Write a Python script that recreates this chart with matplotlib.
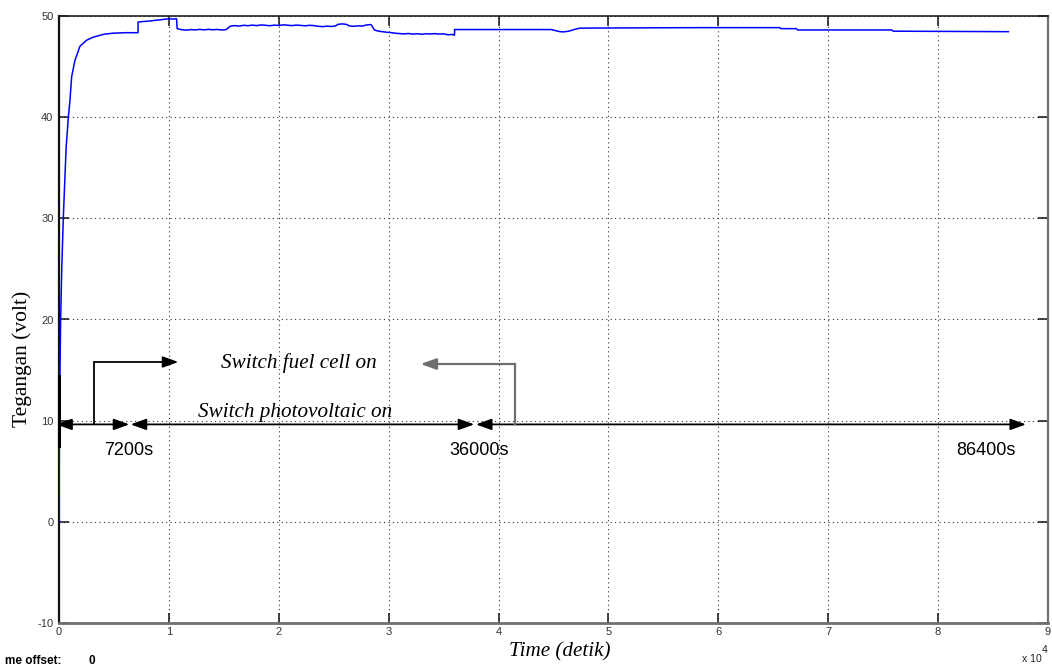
import matplotlib
matplotlib.use("Agg")
import matplotlib.pyplot as plt
from matplotlib.patches import ArrowStyle
from matplotlib.ticker import FuncFormatter

plt.rcParams["axes.unicode_minus"] = False

# --- bus voltage trace, in seconds and volts ---------------------------------
# start-up of the photovoltaic source
rise_t = [0, 40, 90, 150, 250, 390, 500, 650, 850, 1000, 1150, 1450, 1900,
          2500, 3100, 4100, 4900, 6000, 7190]
rise_v = [0, 9, 15, 20, 25, 30, 33, 37, 40, 41.7, 44.0, 45.6, 47.0,
          47.6, 47.9, 48.2, 48.3, 48.35, 48.35]

# fuel cell joins the bus
fc_t = [7200, 7600, 8000, 8400, 8800, 9200, 9600, 10000, 10400, 10700]
fc_v = [49.40, 49.45, 49.48, 49.52, 49.58, 49.62, 49.68, 49.72, 49.70, 49.72]

# load period with both sources running
mid_t = [10750, 11200, 11600, 12000, 12400, 12800, 13200, 13600, 14000, 14400,
         14800, 15200, 15600, 16000, 16400, 16800, 17200, 17600, 18000, 18400,
         18800, 19200, 19600, 20000, 20400, 20800, 21200, 21600, 22000, 22400,
         22800, 23200, 23600, 24000, 24400, 24800, 25200, 25400, 25800, 26200,
         26400, 26800, 27200, 27600, 28000, 28400, 28700, 29000, 29400, 29800,
         30200, 30600, 31000, 31400, 31800, 32200, 32600, 33000, 33400, 33800,
         34200, 34600, 35000, 35400, 35800, 35990]
mid_v = [48.75, 48.64, 48.60, 48.66, 48.62, 48.68, 48.63, 48.68, 48.64, 48.67,
         48.62, 48.65, 49.00, 49.05, 49.00, 49.08, 49.04, 49.10, 49.05, 49.12,
         49.08, 49.04, 49.10, 49.06, 49.13, 49.09, 49.05, 49.10, 49.07, 49.03,
         49.08, 49.05, 48.98, 48.95, 49.00, 48.96, 49.04, 49.18, 49.22, 49.16,
         49.02, 48.98, 49.03, 49.00, 49.12, 49.15, 48.62, 48.52, 48.45, 48.40,
         48.36, 48.30, 48.26, 48.23, 48.27, 48.21, 48.25, 48.19, 48.25, 48.22,
         48.26, 48.21, 48.24, 48.14, 48.18, 48.10]

# photovoltaic off, fuel cell alone until the end of the day
tail_t = [36000, 44800, 45200, 45600, 45900, 46400, 47000, 47400, 51000,
          58000, 65600, 65700, 67100, 67200, 75800, 75900, 86400]
tail_v = [48.66, 48.66, 48.55, 48.45, 48.43, 48.50, 48.70, 48.80, 48.82,
          48.85, 48.85, 48.75, 48.75, 48.62, 48.62, 48.50, 48.45]

time_s = rise_t + fc_t + mid_t + tail_t
voltage = rise_v + fc_v + mid_v + tail_v

# switching instants written on the timeline
switch_labels = ["7200s", "36000s", "86400s"]

x_ticks = list(range(0, 90001, 10000))
y_ticks = list(range(-10, 51, 10))

# --- figure -----------------------------------------------------------------
fig = plt.figure(figsize=(10.52, 6.69), dpi=100)
fig.patch.set_facecolor("white")
ax = fig.add_axes([59 / 1052, 1 - 623 / 669, (1048 - 59) / 1052, (623 - 16) / 669])

ax.plot(time_s, voltage, color="#0000ff", lw=1.1, zorder=3)

ax.set_xlim(0, 90000)
ax.set_ylim(-10, 50)
ax.set_xticks(x_ticks)
ax.set_yticks(y_ticks)
ax.xaxis.set_major_formatter(FuncFormatter(lambda v, p: f"{v / 1e4:g}"))
ax.grid(True, color="#333333", lw=0.8, linestyle=(0, (1, 3)))
ax.tick_params(direction="in", length=7, width=1.2, top=True, right=True,
               labelsize=8, labelcolor="#333333", color="#222222")
ax.tick_params(axis="x", pad=3)
ax.tick_params(axis="y", pad=4)
for lab in ax.get_xticklabels() + ax.get_yticklabels():
    lab.set_family("Liberation Sans")

for side, col, lw in [("top", "#222222", 1.2), ("left", "#111111", 1.6),
                      ("bottom", "#707070", 2.0), ("right", "#707070", 1.6)]:
    ax.spines[side].set_color(col)
    ax.spines[side].set_linewidth(lw)

# --- timeline annotation ----------------------------------------------------
y_line = 9.63
head = ArrowStyle("<|-|>", head_length=0.47, head_width=0.17)
single = ArrowStyle("-|>", head_length=0.47, head_width=0.17)
arrow_kw = dict(color="black", lw=1.3, shrinkA=0, shrinkB=0, mutation_scale=20)

for x0, x1 in [(-250, 6400), (6520, 37790), (37940, 88000)]:
    ax.annotate("", xy=(x1, y_line), xytext=(x0, y_line),
                arrowprops=dict(arrowstyle=head, **arrow_kw),
                annotation_clip=False, zorder=5)

# marker on the time origin
ax.plot([0, 0], [7.5, 14.4], color="black", lw=2.2, zorder=6, clip_on=False)

# bracket pointing to the fuel cell label
ax.plot([3210, 3210], [y_line, 15.8], color="black", lw=1.3, zorder=5)
ax.annotate("", xy=(10860, 15.8), xytext=(3210, 15.8),
            arrowprops=dict(arrowstyle=single, **arrow_kw), zorder=5)

# bracket from the end of the photovoltaic period
gray_kw = dict(arrow_kw)
gray_kw["color"] = "#6e6e6e"
gray_kw["lw"] = 1.6
ax.plot([41490, 41490], [y_line, 15.6], color="#6e6e6e", lw=1.6, zorder=5)
ax.annotate("", xy=(32910, 15.6), xytext=(41490, 15.6),
            arrowprops=dict(arrowstyle=single, **gray_kw), zorder=5)

serif_it = dict(family="Liberation Serif", style="italic", fontsize=15.2)
ax.text(21838, 15.2, "Switch fuel cell on", ha="center", va="baseline", **serif_it)
ax.text(21474, 10.36, "Switch photovoltaic on", ha="center", va="baseline", **serif_it)

for x, lab in zip([6370, 38262, 84350], switch_labels):
    ax.text(x, 6.6, lab, ha="center", va="baseline", fontsize=13,
            family="Liberation Sans")

# --- axis titles and scope footer ---------------------------------------------
fig.text(560 / 1052, 1 - 652 / 669, "Time (detik)", ha="center", va="center",
         **serif_it)
fig.text(22 / 1052, 1 - 359 / 669, "Tegangan (volt)", rotation=90, ha="center",
         va="center", family="Liberation Serif", fontsize=15.5)
fig.text(5 / 1052, 1 - 661 / 669, "me offset:", ha="left", va="center",
         fontsize=8.5, fontweight="bold", family="Liberation Sans")
fig.text(92 / 1052, 1 - 661 / 669, "0", ha="center", va="center",
         fontsize=8.5, fontweight="bold", family="Liberation Sans")
fig.text(1032 / 1052, 1 - 659 / 669, "x 10", ha="center", va="center",
         fontsize=7.5, family="Liberation Sans", color="#222222")
fig.text(1045 / 1052, 1 - 650 / 669, "4", ha="center", va="center",
         fontsize=7.5, family="Liberation Sans", color="#222222")

fig.savefig("out.png", dpi=100)
